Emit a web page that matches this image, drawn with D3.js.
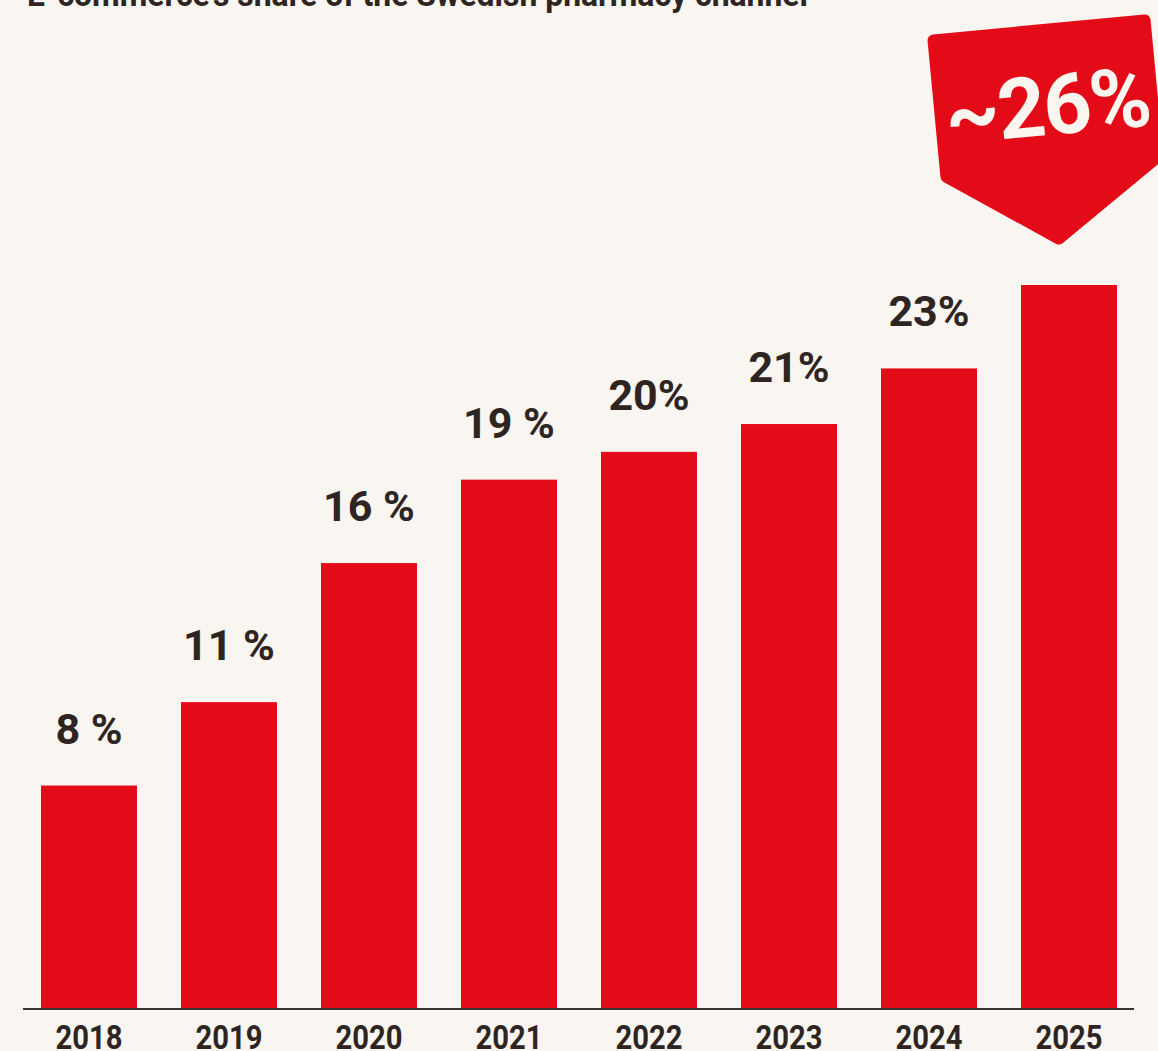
<!DOCTYPE html>
<html>
<head>
<meta charset="utf-8">
<script src="https://cdn.jsdelivr.net/npm/d3@7"></script>
<style>
  html, body { margin: 0; padding: 0; background: #f9f6f1; }
  svg { display: block; }
</style>
</head>
<body>
<svg id="chart" width="1158" height="1051"></svg>
<script>
// E-commerce share of the Swedish pharmacy channel, per year
const years = ["2018", "2019", "2020", "2021", "2022", "2023", "2024", "2025"];
const shares = [8, 11, 16, 19, 20, 21, 23, 26];
const valueLabels = ["8 %", "11 %", "16 %", "19 %", "20%", "21%", "23%", "~26%"];
const title = "E-commerce\u2019s share of the Swedish pharmacy channel";

const W = 1158, H = 1051;
const RED = "#e30b17", INK = "#2e2421", BG = "#f9f6f1";

const svg = d3.select("#chart");
svg.append("rect").attr("width", W).attr("height", H).attr("fill", BG);

const x = d3.scaleBand().domain(years).range([19, 1139]).paddingInner(0.3143).paddingOuter(0.157);
const y = d3.scaleLinear().domain([0, 26]).range([1008, 285]);

// Title (partly above the visible area)
svg.append("text")
  .attr("x", 27).attr("y", 6)
  .attr("font-family", "Roboto, 'Liberation Sans', sans-serif")
  .attr("font-weight", 700).attr("font-size", 34)
  .attr("textLength", 781).attr("lengthAdjust", "spacingAndGlyphs")
  .attr("fill", INK)
  .text(title);

// Bars
svg.append("g").selectAll("rect")
  .data(years)
  .join("rect")
  .attr("x", d => x(d))
  .attr("width", x.bandwidth())
  .attr("y", (d, i) => y(shares[i]))
  .attr("height", (d, i) => y(0) - y(shares[i]))
  .attr("fill", RED);

// Value labels above all bars except the last one, which gets the badge
svg.append("g").selectAll("text")
  .data(years.slice(0, -1))
  .join("text")
  .attr("x", d => x(d) + x.bandwidth() / 2)
  .attr("y", (d, i) => y(shares[i]) - 42)
  .attr("text-anchor", "middle")
  .attr("font-family", "Roboto, sans-serif")
  .attr("font-weight", 700).attr("font-size", 43)
  .attr("fill", INK)
  .text((d, i) => valueLabels[i]);

// Baseline axis with year labels
const axis = d3.axisBottom(x).tickSize(0).tickPadding(0);
const gx = svg.append("g").attr("transform", `translate(0,${y(0)})`).call(axis);
gx.select(".domain").remove();
svg.append("line")
  .attr("x1", 23).attr("x2", 1134)
  .attr("y1", y(0) + 1).attr("y2", y(0) + 1)
  .attr("stroke", "#3b3330").attr("stroke-width", 2);
gx.selectAll(".tick text")
  .attr("y", 41).attr("dy", 0)
  .attr("font-family", "Roboto, sans-serif")
  .attr("font-weight", 700).attr("font-size", 33)
  .attr("textLength", 67).attr("lengthAdjust", "spacingAndGlyphs")
  .attr("fill", INK);

// Tilted price-tag badge for the last year
const last = shares.length - 1;
const badge = svg.append("g").attr("transform", "translate(927,35) rotate(-5.4)");
const tag = [[6, 6], [218, 6], [218, 143], [112, 215], [6, 143]];
badge.append("path")
  .attr("d", d3.line()(tag) + "Z")
  .attr("fill", RED).attr("stroke", RED)
  .attr("stroke-width", 12).attr("stroke-linejoin", "round");
badge.append("text")
  .attr("x", 113).attr("y", 111)
  .attr("text-anchor", "middle")
  .attr("font-family", "Roboto, sans-serif")
  .attr("font-weight", 700).attr("font-size", 84)
  .attr("letter-spacing", -2)
  .attr("fill", "#faf5ee")
  .text(valueLabels[last]);
</script>
</body>
</html>
